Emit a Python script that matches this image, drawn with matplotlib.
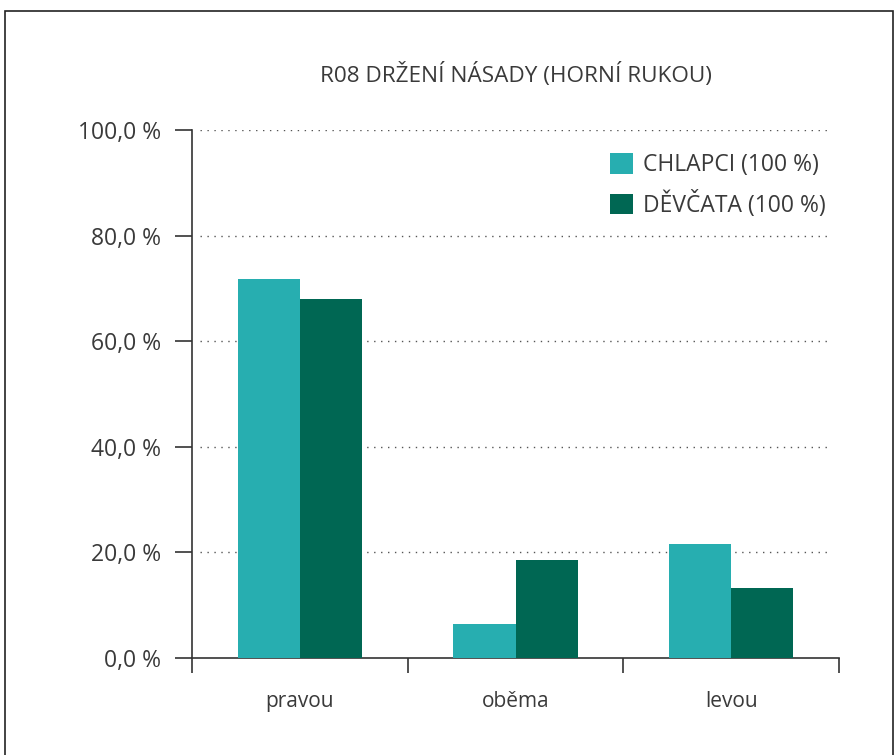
import matplotlib.pyplot as plt
import numpy as np
from matplotlib.patches import Rectangle

plt.rcParams['font.family'] = ['Open Sans', 'DejaVu Sans']

categories = ['pravou', 'oběma', 'levou']
chlapci = [71.8, 6.4, 21.6]
devcata = [68.0, 18.6, 13.3]
series_names = ['CHLAPCI (100 %)', 'DĚVČATA (100 %)']
title = 'R08 DRŽENÍ NÁSADY (HORNÍ RUKOU)'
yticks = [0, 20, 40, 60, 80, 100]
ytick_labels = ['0,0 %', '20,0 %', '40,0 %', '60,0 %', '80,0 %', '100,0 %']

c_light = '#27aeb0'
c_dark = '#006753'
txt = '#3a3a3a'

W, H = 896, 755
fig = plt.figure(figsize=(W / 100, H / 100), dpi=100)

# outer frame
fig.patches.append(Rectangle((5 / W, -0.05), 888 / W, 1.05 - 11 / H,
                             transform=fig.transFigure, fill=False,
                             edgecolor='#222222', linewidth=1.2))

ax = fig.add_axes([192 / W, 1 - 658 / H, (839 - 192) / W, (658 - 130) / H])

x = np.arange(len(categories))
bw = 0.288
ax.bar(x - bw / 2, chlapci, bw, color=c_light, label=series_names[0], zorder=3)
ax.bar(x + bw / 2, devcata, bw, color=c_dark, label=series_names[1], zorder=3)

ax.set_xlim(-0.5, len(categories) - 0.5)
ax.set_ylim(0, 100)

for s in ['top', 'right']:
    ax.spines[s].set_visible(False)
for s in ['left', 'bottom']:
    ax.spines[s].set_color('#333333')
    ax.spines[s].set_linewidth(1.2)

ax.set_yticks(yticks)
ax.set_yticklabels(ytick_labels)
ax.tick_params(axis='y', length=12, width=1.2, color='#333333',
               labelsize=16.5, labelcolor=txt, pad=10)

# category ticks sit on the boundaries, labels in the middle
ax.set_xticks(np.arange(-0.5, len(categories), 1.0))
ax.set_xticklabels([])
ax.set_xticks(x, minor=True)
ax.set_xticklabels(categories, minor=True)
ax.tick_params(axis='x', which='major', length=11, width=1.2, color='#333333')
ax.tick_params(axis='x', which='minor', length=0, labelsize=15,
               labelcolor=txt, pad=24)

for v in yticks[1:]:
    ax.plot([0.012, 0.985], [v, v], transform=ax.get_yaxis_transform(),
            color='#555555', linestyle=(0, (1, 4)), linewidth=1.0, zorder=1)

fig.text((192 + 839) / 2 / W, 1 - 75 / H, title, ha='center', va='center',
         fontsize=16.2, color=txt)

ax.legend(loc='upper left', bbox_to_anchor=(610 / W, 1 - 153 / H),
          bbox_transform=fig.transFigure, frameon=False, fontsize=16.5,
          handlelength=1.0, handleheight=1.0, handletextpad=0.45,
          labelspacing=0.6, borderpad=0, borderaxespad=0,
          labelcolor=txt)

fig.savefig('out.png', dpi=100)
